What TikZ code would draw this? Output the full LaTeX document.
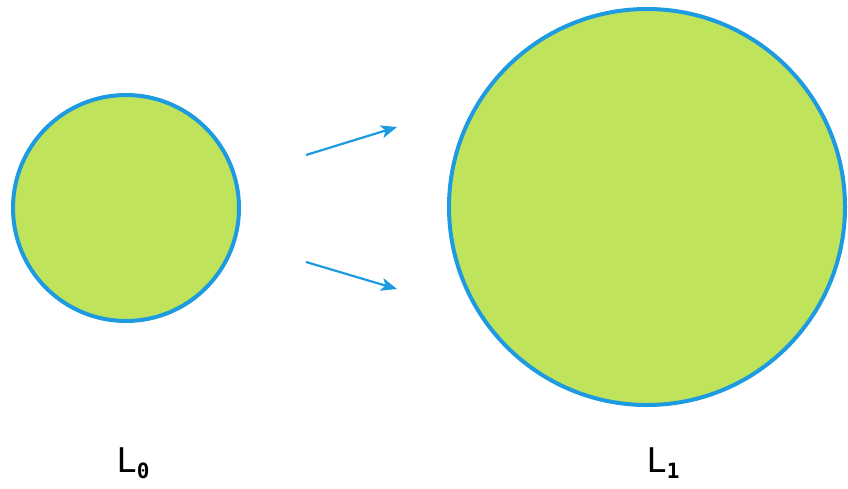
\documentclass[tikz,border=0pt]{standalone}
\usepackage{fontspec}
\usetikzlibrary{arrows.meta}
\newfontfamily\labelfont{DejaVu Sans Mono}
\definecolor{fillgreen}{HTML}{C0E35C}
\definecolor{strokeblue}{HTML}{1E9BE0}
\begin{document}
\begin{tikzpicture}[x=1pt,y=-1pt,
  blob/.style={circle,draw=strokeblue,fill=fillgreen,line width=4pt,inner sep=0pt},
  flow/.style={draw=strokeblue,line width=2.2pt,-{Stealth[length=16pt,width=13pt,inset=4pt]}},
  lbl/.style={font=\labelfont\fontsize{34}{34}\selectfont,inner sep=0pt}]
\useasboundingbox (0,0) rectangle (848,488);
\node[blob,minimum size=226pt] (L0c) at (126,208) {};
\node[blob,minimum size=396pt] (L1c) at (647,207) {};
\coordinate (a1s) at (306,155);
\coordinate (a1e) at (397,127);
\coordinate (a2s) at (306,262);
\coordinate (a2e) at (397,289);
\draw[flow] (a1s) -- (a1e);
\draw[flow] (a2s) -- (a2e);
\node[lbl] (L0) at (133,463) {L\raisebox{-6pt}{\bfseries\fontsize{21}{21}\selectfont 0}};
\node[lbl] (L1) at (663,463) {L\raisebox{-6pt}{\bfseries\fontsize{21}{21}\selectfont 1}};
\end{tikzpicture}
\end{document}
